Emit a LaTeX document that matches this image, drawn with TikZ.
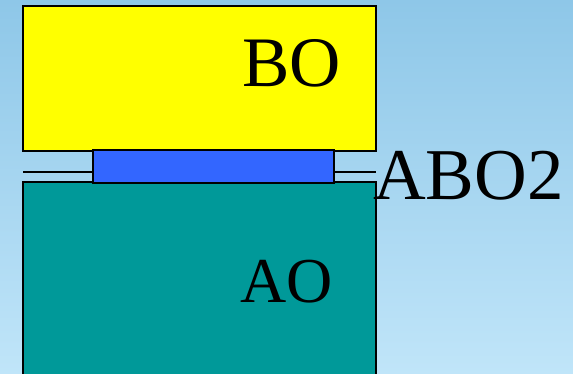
\documentclass[tikz,border=0pt]{standalone}
\usepackage{fontspec}
\setmainfont{Liberation Serif}
\definecolor{bgtop}{RGB}{142,199,232}
\definecolor{bgbot}{RGB}{192,229,249}
\definecolor{boyellow}{RGB}{255,255,0}
\definecolor{abblue}{RGB}{51,102,255}
\definecolor{aoteal}{RGB}{0,153,153}
\begin{document}
\begin{tikzpicture}[x=1pt,y=-1pt,
  box/.style={draw=black,line width=2pt,outer sep=0pt,inner sep=0pt,anchor=north west},
  joinline/.style={draw=black,line width=2pt},
  lbl/.style={inner sep=0pt,outer sep=0pt,text=black}]
\useasboundingbox (0,0) rectangle (573,374);
\clip (0,0) rectangle (573,374);
\shade[top color=bgtop,bottom color=bgbot] (0,0) rectangle (573,374);
\node[box,fill=boyellow,minimum width=353pt,minimum height=145pt] (bo) at (23,6) {};
\node[box,fill=aoteal,minimum width=353pt,minimum height=210pt] (ao) at (23,182) {};
\coordinate (jl) at (23,172);
\coordinate (jr) at (376,172);
\node[box,fill=abblue,minimum width=241pt,minimum height=33pt] (abo) at (93,150) {};
\draw[joinline] (jl) -- (jl -| abo.west);
\draw[joinline] (abo.east |- jr) -- (jr);
\node[lbl,anchor=base,font=\fontsize{71}{71}\selectfont] (botext) at (291.5,87) {BO};
\node[lbl,anchor=base,font=\fontsize{64}{64}\selectfont] (aotext) at (287,302) {AO};
\node[lbl,anchor=base west,font=\fontsize{73}{73}\selectfont] (abotext) at (373,200) {ABO2};
\end{tikzpicture}
\end{document}
